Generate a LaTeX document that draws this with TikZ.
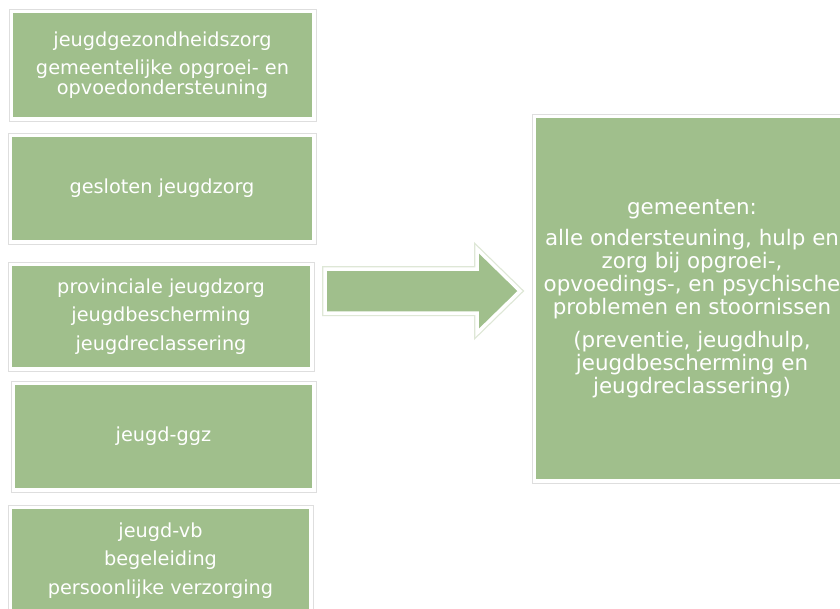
\documentclass[tikz,border=0pt]{standalone}
\usepackage{fontspec}
\setmainfont{DejaVu Sans}
\definecolor{sgreen}{RGB}{160,191,140}
\definecolor{framegray}{RGB}{222,222,222}
\definecolor{arrowline}{RGB}{222,231,214}
\newcommand\lftfont{\fontsize{19.3}{19.5}\selectfont}
\newcommand\rgtfont{\fontsize{21.4}{23}\selectfont}
\tikzset{
  gbox/.style={fill=sgreen, draw=white, line width=3.5pt,
    preaction={draw=framegray, line width=5.5pt},
    inner sep=0pt, align=center, text=white},
  lbox/.style={gbox, font=\lftfont},
  rbox/.style={gbox, font=\rgtfont},
  blockarrow/.style={fill=sgreen, draw=white, line width=3.5pt, line join=miter,
    preaction={draw=arrowline, line width=6pt, line join=miter}},
}
\begin{document}
\begin{tikzpicture}[x=1pt,y=-1pt]
\useasboundingbox (0,0) rectangle (840,608);
\clip (0,0) rectangle (840,608);
\fill[white] (0,0) rectangle (840,608);

\node[lbox, minimum width=302.5pt, minimum height=107.5pt] (b1) at (162.5,65)
  {jeugdgezondheidszorg\\[8.5pt]gemeentelijke opgroei- en\\opvoedondersteuning};
\node[lbox, minimum width=303.5pt, minimum height=106.5pt] (b2) at (162,188.5)
  {gesloten jeugdzorg};
\node[lbox, minimum width=301.5pt, minimum height=104.5pt] (b3) at (161,316.5)
  {provinciale jeugdzorg\\[9pt]jeugdbescherming\\[9pt]jeugdreclassering};
\node[lbox, minimum width=300.5pt, minimum height=106.5pt] (b4) at (163.5,436.5)
  {jeugd-ggz};
\node[lbox, minimum width=300.5pt, minimum height=106.5pt] (b5) at (160.5,560.5)
  {jeugd-vb\\[9pt]begeleiding\\[9pt]persoonlijke verzorging};

\node[rbox, minimum width=315.5pt, minimum height=364.5pt] (r) at (692,298.5)
  {gemeenten:\\[8pt]alle ondersteuning, hulp en\\zorg bij opgroei-,\\opvoedings-, en psychische\\problemen en stoornissen\\[10pt](preventie, jeugdhulp,\\jeugdbescherming en\\jeugdreclassering)};

\path[blockarrow] (325,269) -- (477,269) -- (477,249) -- (520,291) -- (477,333) -- (477,313) -- (325,313) -- cycle;
\end{tikzpicture}
\end{document}
